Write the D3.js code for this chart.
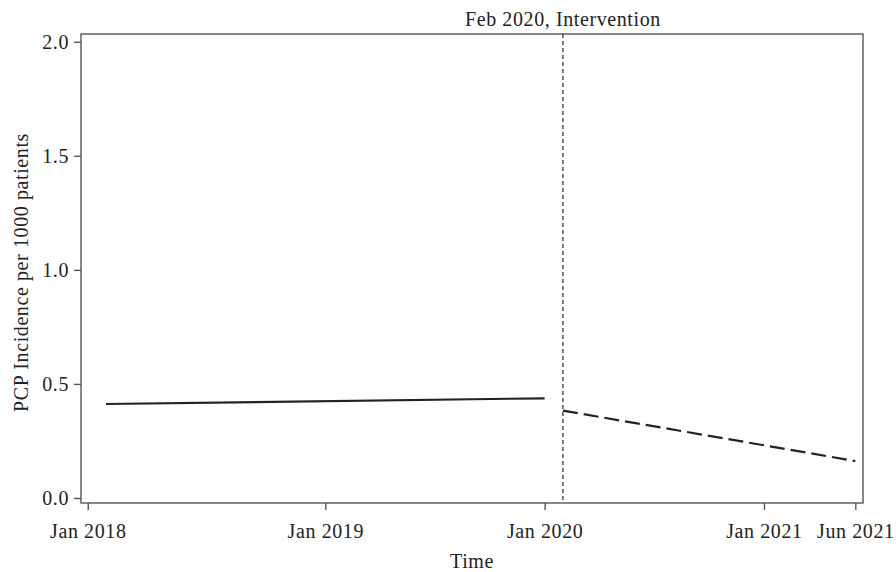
<!DOCTYPE html>
<html>
<head>
<meta charset="utf-8">
<script src="https://cdn.jsdelivr.net/npm/d3@7"></script>
<style>
  body { margin: 0; background: #fff; }
  svg { display: block; }
  text { font-family: "Liberation Serif", "DejaVu Serif", serif; fill: #222; letter-spacing: 0.6px; }
</style>
</head>
<body>
<div id="chart"></div>
<script>
// months counted from Jan 2018 (0)
const preMonths = [0, 24];
const preValues = [0.412, 0.437];
const postMonths = [25, 41];
const postValues = [0.383, 0.162];

const xTickMonths = [-1, 12, 24, 36, 41];
const xTickLabels = ["Jan 2018", "Jan 2019", "Jan 2020", "Jan 2021", "Jun 2021"];
const yTicks = [0.0, 0.5, 1.0, 1.5, 2.0];

const interventionMonth = 25;
const interventionLabel = "Feb 2020, Intervention";

const width = 896, height = 572;
const margin = {top: 34, right: 33, bottom: 69, left: 81};
const fontSize = "20px";

const svg = d3.select("#chart").append("svg")
    .attr("width", width)
    .attr("height", height);

const x = d3.scaleLinear()
    .domain([-1.37, 41.42])
    .range([margin.left, width - margin.right]);

const y = d3.scaleLinear()
    .domain([-0.022, 2.034])
    .range([height - margin.bottom, margin.top]);

// frame
svg.append("rect")
    .attr("x", margin.left)
    .attr("y", margin.top)
    .attr("width", width - margin.left - margin.right)
    .attr("height", height - margin.top - margin.bottom)
    .attr("fill", "none")
    .attr("stroke", "#555")
    .attr("stroke-width", 1.4);

// x axis
const xAxis = svg.append("g")
    .attr("transform", `translate(0, ${height - margin.bottom})`)
    .call(d3.axisBottom(x)
        .tickValues(xTickMonths)
        .tickFormat((d, i) => xTickLabels[i])
        .tickSize(7)
        .tickPadding(14));
xAxis.select(".domain").remove();
xAxis.selectAll("line").attr("stroke", "#555").attr("stroke-width", 1.4);
xAxis.selectAll("text").style("font-size", fontSize).attr("fill", "#222");

// y axis
const yAxis = svg.append("g")
    .attr("transform", `translate(${margin.left}, 0)`)
    .call(d3.axisLeft(y)
        .tickValues(yTicks)
        .tickFormat(d3.format(".1f"))
        .tickSize(7)
        .tickPadding(5));
yAxis.select(".domain").remove();
yAxis.selectAll("line").attr("stroke", "#555").attr("stroke-width", 1.4);
yAxis.selectAll("text").style("font-size", fontSize).attr("fill", "#222");

// axis titles
svg.append("text")
    .attr("x", (margin.left + width - margin.right) / 2)
    .attr("y", 568)
    .attr("text-anchor", "middle")
    .style("font-size", fontSize)
    .text("Time");

svg.append("text")
    .attr("transform", `translate(28, ${(margin.top + height - margin.bottom) / 2 + 4}) rotate(-90)`)
    .attr("text-anchor", "middle")
    .style("font-size", fontSize)
    .text("PCP Incidence per 1000 patients");

// intervention line
svg.append("line")
    .attr("x1", x(interventionMonth))
    .attr("x2", x(interventionMonth))
    .attr("y1", margin.top)
    .attr("y2", height - margin.bottom)
    .attr("stroke", "#333")
    .attr("stroke-width", 1.3)
    .attr("stroke-dasharray", "4,3");

svg.append("text")
    .attr("x", x(interventionMonth))
    .attr("y", 26)
    .attr("text-anchor", "middle")
    .style("font-size", fontSize)
    .text(interventionLabel);

// segments
const line = d3.line()
    .x(d => x(d[0]))
    .y(d => y(d[1]));

svg.append("path")
    .datum(d3.zip(preMonths, preValues))
    .attr("d", line)
    .attr("fill", "none")
    .attr("stroke", "#222")
    .attr("stroke-width", 2.2);

svg.append("path")
    .datum(d3.zip(postMonths, postValues))
    .attr("d", line)
    .attr("fill", "none")
    .attr("stroke", "#222")
    .attr("stroke-width", 2.2)
    .attr("stroke-dasharray", "15,6");
</script>
</body>
</html>
